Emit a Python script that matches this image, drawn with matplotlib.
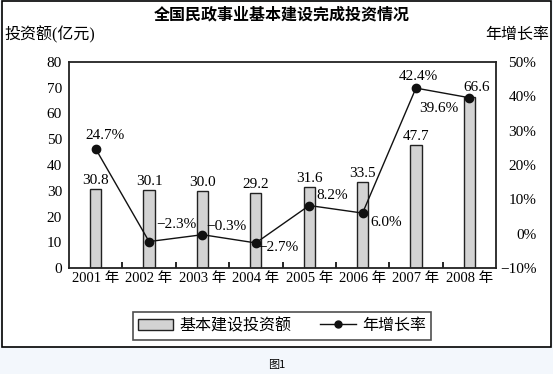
import matplotlib
matplotlib.use("Agg")
import matplotlib.pyplot as plt
from matplotlib.patches import Rectangle, Patch
from matplotlib.lines import Line2D
import numpy as np

years = ["2001 年", "2002 年", "2003 年", "2004 年", "2005 年", "2006 年", "2007 年", "2008 年"]
investment = [30.8, 30.1, 30.0, 29.2, 31.6, 33.5, 47.7, 66.6]
growth = [24.7, -2.3, -0.3, -2.7, 8.2, 6.0, 42.4, 39.6]
left_ticks = [0, 10, 20, 30, 40, 50, 60, 70, 80]
right_ticks = [-10, 0, 10, 20, 30, 40, 50]

plt.rcParams['font.family'] = ['Liberation Serif', 'Noto Sans CJK SC']
plt.rcParams['axes.unicode_minus'] = True


def pct(v, fmt):
    s = format(abs(v), fmt) + "%"
    return ("\u2212" + s) if v < 0 else s


W, H = 553, 374
fig = plt.figure(figsize=(W / 100, H / 100), dpi=100)
fig.patch.set_facecolor('#f3f7fc')

# outer frame
fig.patches.append(Rectangle((2 / W, 1 - 347 / H), 549 / W, 347 / H - 0.5 / H,
                             transform=fig.transFigure, facecolor='white',
                             edgecolor='black', linewidth=1.2, zorder=-5))

L, R, T, B = 69, 496, 62, 268
ax = fig.add_axes([L / W, 1 - B / H, (R - L) / W, (B - T) / H])
ax.set_facecolor('none')
x = np.arange(len(years))
ax.bar(x, investment, width=0.21, color='#d3d3d3', edgecolor='#222222', linewidth=1.0, zorder=2)
ax.set_xlim(-0.5, len(years) - 0.5)
ax.set_ylim(0, 80)
ax.set_yticks(left_ticks)
ax.tick_params(axis='y', length=0, labelsize=11, pad=5)
ax.set_xticks(x)
ax.set_xticklabels(years, fontsize=10.5)
ax.tick_params(axis='x', which='major', length=0, pad=3)
ax.set_xticks(np.arange(0.5, len(years) - 0.5, 1), minor=True)
ax.tick_params(axis='x', which='minor', direction='in', length=4, width=1.2)
for s in ax.spines.values():
    s.set_linewidth(1.3)
    s.set_color('#222222')

for xi, v in zip(x, investment):
    dx = 5 if xi == len(years) - 1 else 0
    ax.annotate(f"{v:.1f}", (xi, v), xytext=(dx, 1.5), textcoords='offset points',
                ha='center', va='bottom', fontsize=11)

ax2 = ax.twinx()
ax2.set_ylim(-10, 50)
ax2.set_yticks(right_ticks)
ax2.set_yticklabels([pct(t, "d") for t in right_ticks])
ax2.tick_params(axis='y', length=0, labelsize=11, pad=29)
for lbl in ax2.get_yticklabels():
    lbl.set_horizontalalignment('right')
ax2.plot(x, growth, color='#111111', linewidth=1.0, marker='o', markersize=6, zorder=3)
for s in ax2.spines.values():
    s.set_visible(False)

# offsets in pixels (dx, dy up)
offs = [(9, 13), (27, 17), (24, 8), (23, -5), (23, 10), (24, -9), (2, 12), (-30, -11)]
for xi, g, (dx, dy) in zip(x, growth, offs):
    ax2.annotate(pct(g, ".1f"), (xi, g), xytext=(dx * 0.72, dy * 0.72), textcoords='offset points',
                 ha='center', va='center', fontsize=11)

fig.text(282 / W, 1 - 14 / H, "全国民政事业基本建设完成投资情况", ha='center', va='center',
         fontsize=11.5, fontweight='bold', family=['Noto Sans CJK SC'])
fig.text(4 / W, 1 - 35 / H, "投资额(亿元)", ha='left', va='center', fontsize=11.5)
fig.text(549 / W, 1 - 35 / H, "年增长率", ha='right', va='center', fontsize=11.5)

handles = [Patch(facecolor='#d3d3d3', edgecolor='#222222', linewidth=1.0),
           Line2D([0], [0], color='#111111', marker='o', markersize=5, linewidth=1.0)]
leg = fig.legend(handles, ["基本建设投资额", "年增长率"], loc='center',
                 bbox_to_anchor=(282 / W, 1 - 326 / H), ncol=2, fontsize=11.5,
                 frameon=True, fancybox=False, edgecolor='#222222',
                 handlelength=2.2, columnspacing=1.8, handletextpad=0.4,
                 borderpad=0.35)
leg.get_frame().set_linewidth(1.2)

fig.text(277 / W, 1 - 365 / H, "图1", ha='center', va='center', fontsize=8,
         family=['Noto Sans CJK SC'])

fig.savefig("out.png", dpi=100, facecolor=fig.get_facecolor())
